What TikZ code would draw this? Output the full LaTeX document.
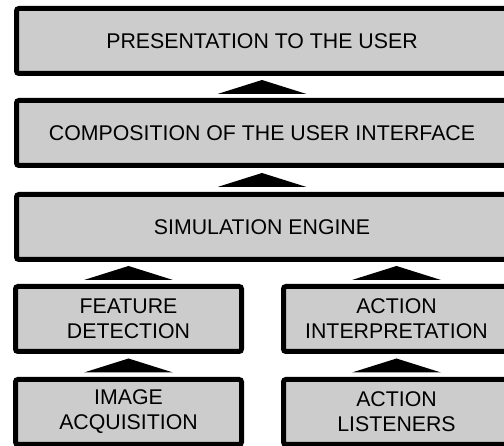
\documentclass[tikz,border=0pt]{standalone}
\usepackage{fontspec}
\setmainfont{Liberation Sans}
\usetikzlibrary{calc}
\definecolor{boxgray}{HTML}{CCCCCC}
\begin{document}
\begin{tikzpicture}[x=1pt,y=-1pt,
  box/.style={draw=black, line width=5pt, fill=boxgray, rounded corners=2.5pt, inner sep=0pt,
    align=center, font=\fontsize{21.3}{25}\selectfont, minimum height=65pt},
  wide/.style={box, minimum width=491pt},
  half/.style={box, minimum width=226pt},
  tri/.style={fill=black}]
\useasboundingbox (0,0) rectangle (504,446);
\clip (0,0) rectangle (504,446);
\node[wide] (s1) at (262,41) {PRESENTATION TO THE USER};
\node[wide] (s2) at (262,133) {COMPOSITION OF THE USER INTERFACE};
\node[wide] (s3) at (262,227) {SIMULATION ENGINE};
\node[half] (fd) at (128.5,319) {FEATURE\\DETECTION};
\node[half] (ai) at (396.5,319) {ACTION\\INTERPRETATION};
\node[half] (ia) at (128.5,412) {IMAGE\\ACQUISITION};
\node[half] (al) at (396.5,412) {ACTION\\LISTENERS};
\coordinate (m1) at ($(s1.south)!0.5!(s2.north)$);
\coordinate (m2) at ($(s2.south)!0.5!(s3.north)$);
\coordinate (m3) at ($(fd.north)!0.5!(fd.north |- s3.south)$);
\coordinate (m4) at ($(ai.north)!0.5!(ai.north |- s3.south)$);
\coordinate (m5) at ($(ia.north)!0.5!(fd.south)$);
\coordinate (m6) at ($(al.north)!0.5!(ai.south)$);
\foreach \m in {m1,m2,m3,m4,m5,m6}
  \fill[tri] ($(\m)+(-44.5,7)$) -- ($(\m)+(44.5,7)$) -- ($(\m)+(0,-7)$) -- cycle;
\end{tikzpicture}
\end{document}
